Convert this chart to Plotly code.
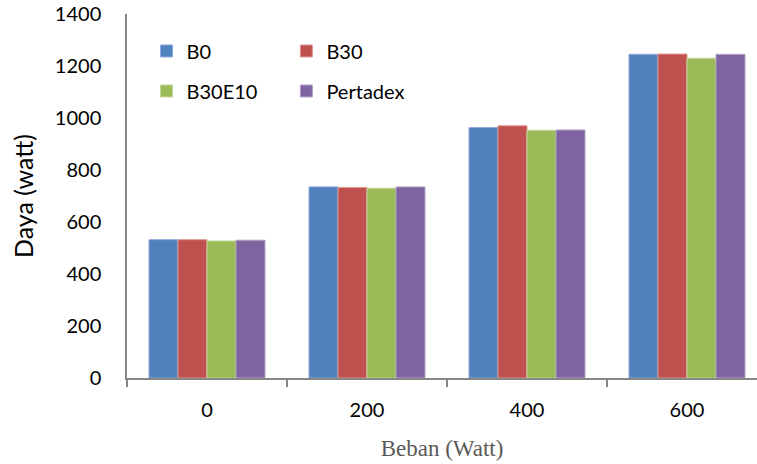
import plotly.graph_objects as go

categories = ["0", "200", "400", "600"]
series_names = ["B0", "B30", "B30E10", "Pertadex"]
b0 = [532, 735, 963, 1245]
b30 = [532, 733, 970, 1246]
b30e10 = [527, 730, 953, 1230]
pertadex = [530, 735, 954, 1245]
colors = ["#4F81BD", "#C0504D", "#9BBB59", "#8064A2"]
edge_colors = ["#8FAADC", "#E09896", "#C3D69B", "#B3A2C7"]

values = [b0, b30, b30e10, pertadex]
legends = ["legend", "legend2", "legend", "legend2"]

fig = go.Figure()
for i, (name, vals) in enumerate(zip(series_names, values)):
    fig.add_trace(go.Bar(
        x=categories, y=vals, name=name,
        marker=dict(color=colors[i], line=dict(color=edge_colors[i], width=1)),
        legend=legends[i], legendgroup=name,
    ))

W, H = 757, 464
ml, mt, mb = 127, 14, 86
legend_font = dict(family="Lato", size=20, color="#000000")
fig.update_layout(
    width=W, height=H,
    margin=dict(l=ml, r=0, t=mt, b=mb),
    paper_bgcolor="white", plot_bgcolor="white",
    barmode="group", bargap=0.275, bargroupgap=0,
    font=dict(family="Lato", size=19, color="#000000"),
    legend=dict(x=0.031, y=0.952, xanchor="left", yanchor="top",
                orientation="v", traceorder="grouped", tracegroupgap=11,
                font=legend_font, bgcolor="rgba(0,0,0,0)", itemwidth=30),
    legend2=dict(x=0.253, y=0.952, xanchor="left", yanchor="top",
                 orientation="v", traceorder="grouped", tracegroupgap=11,
                 font=legend_font, bgcolor="rgba(0,0,0,0)", itemwidth=30),
    xaxis=dict(
        type="category", range=[-0.5, -0.5 + (W - ml) / 160.0],
        showline=True, linecolor="#868686", linewidth=1.5,
        ticks="outside", tickson="boundaries", ticklen=7, tickcolor="#868686", tickwidth=1.5,
        tickfont=dict(family="Lato", size=20, color="#000000"),
        ticklabelstandoff=13,
        title=dict(text="Beban (Watt)", font=dict(family="Liberation Serif", size=23, color="#595959"), standoff=20),
        showgrid=False, zeroline=False,
    ),
    yaxis=dict(
        range=[0, 1400], tickvals=[0, 200, 400, 600, 800, 1000, 1200, 1400],
        showline=True, linecolor="#868686", linewidth=1.5,
        ticks="", ticklabelstandoff=20,
        tickfont=dict(family="Lato", size=20, color="#000000"),
        title=dict(text="Daya (watt)", font=dict(family="Lato", size=25, color="#000000"), standoff=14),
        showgrid=False, zeroline=False,
    ),
)

fig.write_html("out.html")
